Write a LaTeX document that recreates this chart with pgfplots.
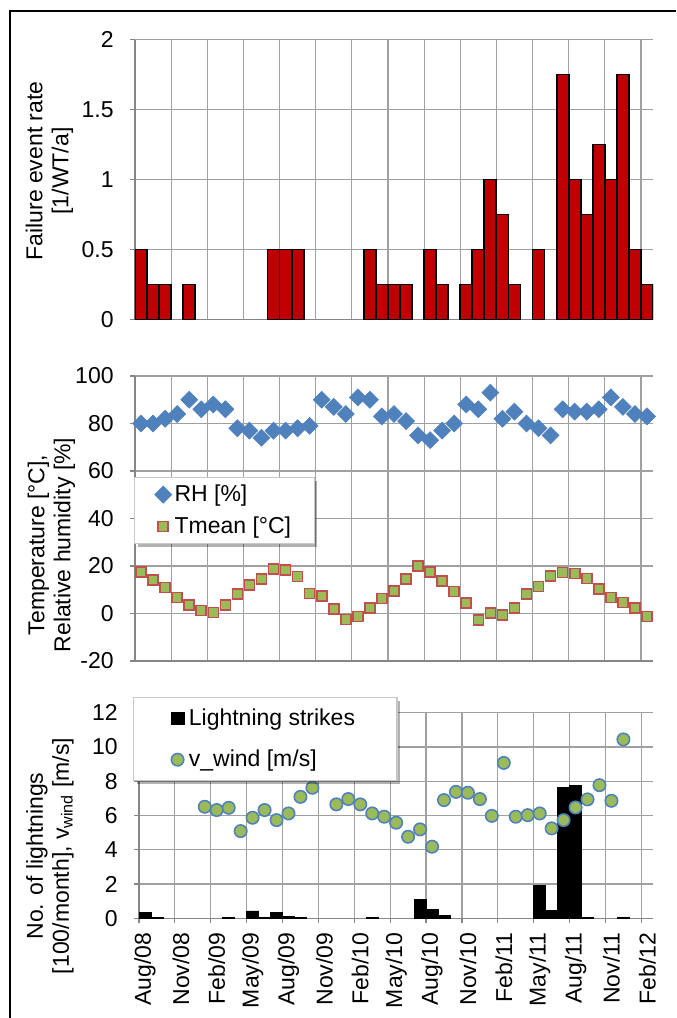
\documentclass[border=0pt]{standalone}
\usepackage{fontspec}
\setmainfont{Liberation Sans}
\usepackage{pgfplots}
\pgfplotsset{compat=1.18}
\usetikzlibrary{shadows}
\definecolor{barred}{RGB}{192,0,0}
\definecolor{rhblue}{RGB}{79,129,189}
\definecolor{tgreen}{RGB}{155,187,89}
\definecolor{tred}{RGB}{192,80,77}
\definecolor{gridc}{RGB}{160,160,160}
\definecolor{axisc}{RGB}{134,134,134}
\definecolor{legc}{RGB}{200,200,200}
\newcommand{\fs}{\fontsize{11.5}{13}\selectfont}
\pgfplotsset{
  panel/.style={
    scale only axis,
    xmin=-0.5, xmax=42.5,
    axis x line*=bottom, axis y line*=left,
    axis line style={axisc, line width=0.6pt},
    xmajorgrids=true, ymajorgrids=true,
    major grid style={gridc, line width=0.6pt},
    tick align=outside,
    major tick length=2.5pt,
    tick style={axisc, line width=0.6pt},
    tick label style={font=\fs},
    yticklabel style={anchor=east, inner sep=0pt, xshift=-8pt},
    xtick={-0.5,2.5,...,41.5},
    xticklabels={},
  },
}
\begin{document}
\begin{tikzpicture}
\useasboundingbox (0,0) rectangle (338pt,-509pt);
\draw[black, line width=0.75pt] (5pt,-509pt) -- (5pt,-5.5pt) -- (338pt,-5.5pt);

% ---------------- top panel
\begin{axis}[panel, at={(67.5pt,-159.75pt)}, anchor=south west, width=259pt, height=140pt,
  ymin=0, ymax=2, ytick={0,0.5,1,1.5,2}, yticklabels={0,0.5,1,1.5,2},
  xtick style={draw=none}]
\addplot[ybar, bar width=1, fill=barred, draw=black, line width=0.9pt] coordinates {
(0,0.5)(1,0.25)(2,0.25)(4,0.25)(11,0.5)(12,0.5)(13,0.5)(19,0.5)(20,0.25)(21,0.25)(22,0.25)
(24,0.5)(25,0.25)(27,0.25)(28,0.5)(29,1)(30,0.75)(31,0.25)(33,0.5)(35,1.75)(36,1)(37,0.75)
(38,1.25)(39,1)(40,1.75)(41,0.5)(42,0.25)};
\end{axis}

% ---------------- middle panel
\begin{axis}[panel, clip=false, at={(67.5pt,-330.5pt)}, anchor=south west, width=259pt, height=142.5pt,
  ymin=-20, ymax=100, ytick={-20,0,...,100}, yticklabels={-20,0,20,40,60,80,100},
  xtick style={draw=none},
  legend style={at={(-0.002,0.6456)}, anchor=north west, draw=legc, line width=0.6pt, fill=white,
    drop shadow={shadow xshift=1.5pt, shadow yshift=-1.5pt, opacity=0.3, fill=black},
    inner xsep=0pt, inner ysep=0.5pt, font=\fs, row sep=0pt, column sep=0pt,
    nodes={inner sep=0pt}, cells={anchor=west}},
  legend image code/.code={\pgfpathrectangle{\pgfpoint{0pt}{-8pt}}{\pgfpoint{20pt}{16pt}}\pgfusepath{discard}\draw[#1] plot coordinates {(14.35pt,0pt)};}
]
\addplot[only marks, mark=square*, mark size=3pt, mark options={rotate=45, fill=rhblue, draw=rhblue, line width=0.3pt}] coordinates {
(0,80)(1,80)(2,82)(3,84)(4,90)(5,86)(6,88)(7,86)(8,78)(9,77)(10,74)(11,77)(12,77)(13,78)(14,79)
(15,90)(16,87)(17,84)(18,91)(19,90)(20,83)(21,84)(22,81)(23,75)(24,73)(25,77)(26,80)(27,88)(28,86)
(29,93)(30,82)(31,85)(32,80)(33,78)(34,75)(35,86)(36,85)(37,85)(38,86)(39,91)(40,87)(41,84)(42,83)};
\addlegendentry{RH [\%]}
\addplot[only marks, mark=square*, mark size=2.5pt, mark options={fill=tgreen, draw=tred, line width=0.8pt}] coordinates {
(0,17.6)(1,14.1)(2,10.9)(3,6.8)(4,3.6)(5,1.2)(6,0.5)(7,3.6)(8,8.2)(9,12.0)(10,14.5)(11,18.7)(12,18.3)
(13,15.5)(14,8.5)(15,7.4)(16,1.8)(17,-2.5)(18,-1.3)(19,2.2)(20,6.4)(21,9.6)(22,14.5)(23,20.0)(24,17.6)
(25,13.8)(26,9.2)(27,4.3)(28,-2.7)(29,0.1)(30,-0.6)(31,2.2)(32,8.1)(33,11.3)(34,15.9)(35,17.2)(36,16.9)
(37,14.8)(38,10.2)(39,6.8)(40,4.7)(41,2.4)(42,-1.3)};
\addlegendentry{Tmean [°C]\rule{11.5pt}{0pt}}
\end{axis}

% ---------------- bottom panel
\begin{axis}[panel, clip=false, at={(69.5pt,-459.15pt)}, anchor=south west, width=257.15pt, height=102.8pt,
  ymin=0, ymax=12, ytick={0,2,...,12}, yticklabels={0,2,4,6,8,10,12},
  extra x ticks={0,3,...,42},
  extra x tick labels={Aug/08,Nov/08,Feb/09,May/09,Aug/09,Nov/09,Feb/10,May/10,Aug/10,Nov/10,Feb/11,May/11,Aug/11,Nov/11,Feb/12},
  extra x tick style={xmajorgrids=false, major tick length=0pt, tick style={draw=none}},
  xticklabel style={yshift=-7pt, rotate=90, anchor=east, inner sep=0pt},
  legend style={at={(-0.0117,1.076)}, anchor=north west, draw=legc, line width=0.6pt, fill=white,
    drop shadow={shadow xshift=1.5pt, shadow yshift=-1.5pt, opacity=0.3, fill=black},
    inner xsep=0pt, inner ysep=0.25pt, font=\fs, row sep=0pt, column sep=0pt,
    nodes={inner sep=0pt}, cells={anchor=west}},
  legend image code/.code={\pgfpathrectangle{\pgfpoint{0pt}{-10.25pt}}{\pgfpoint{27.65pt}{20.5pt}}\pgfusepath{discard}\draw[#1] plot coordinates {(22pt,0pt)};}
]
\addplot[ybar, bar width=1, fill=black, draw=black, line width=0.3pt,
  legend image code/.code={\pgfpathrectangle{\pgfpoint{0pt}{-10.25pt}}{\pgfpoint{27.65pt}{20.5pt}}\pgfusepath{discard}\pgfsetfillcolor{black}\pgfpathrectangle{\pgfpoint{18.5pt}{-3.3pt}}{\pgfpoint{7pt}{6.6pt}}\pgfusepath{fill}}] coordinates {
(0,0.33)(1,0.05)(7,0.03)(9,0.43)(10,0.04)(11,0.35)(12,0.13)(13,0.04)(19,0.03)(23,1.1)(24,0.52)(25,0.15)
(33,1.94)(34,0.48)(35,7.64)(36,7.77)(37,0.04)(40,0.05)};
\addlegendentry{Lightning strikes\rule{21pt}{0pt}}
\addplot[only marks, mark=*, mark size=3.1pt, mark options={fill=tgreen, draw=rhblue, line width=0.8pt}] coordinates {
(5,6.51)(6,6.32)(7,6.45)(8,5.09)(9,5.87)(10,6.32)(11,5.73)(12,6.12)(13,7.09)(14,7.62)(16,6.65)(17,6.96)
(18,6.65)(19,6.12)(20,5.93)(21,5.58)(22,4.76)(23,5.19)(24,4.18)(25,6.90)(26,7.38)(27,7.33)(28,6.96)
(29,5.98)(30,9.07)(31,5.93)(32,6.02)(33,6.12)(34,5.25)(35,5.73)(36,6.47)(37,6.94)(38,7.77)(39,6.86)(40,10.44)};
\addlegendentry{v\_wind [m/s]}
\end{axis}

% ---------------- axis titles
\node[rotate=90, align=center, font=\fs] at (24.75pt,-85.5pt) {Failure event rate\\{}[1/WT/a]};
\node[rotate=90, align=center, font=\fs] at (25.75pt,-272.5pt) {Temperature [°C],\\Relative humidity [\%]};
\node[rotate=90, align=center, font=\fs] at (25pt,-428pt) {No. of lightnings\\{}[100/month], v\textsubscript{wind} [m/s]};
\end{tikzpicture}
\end{document}
